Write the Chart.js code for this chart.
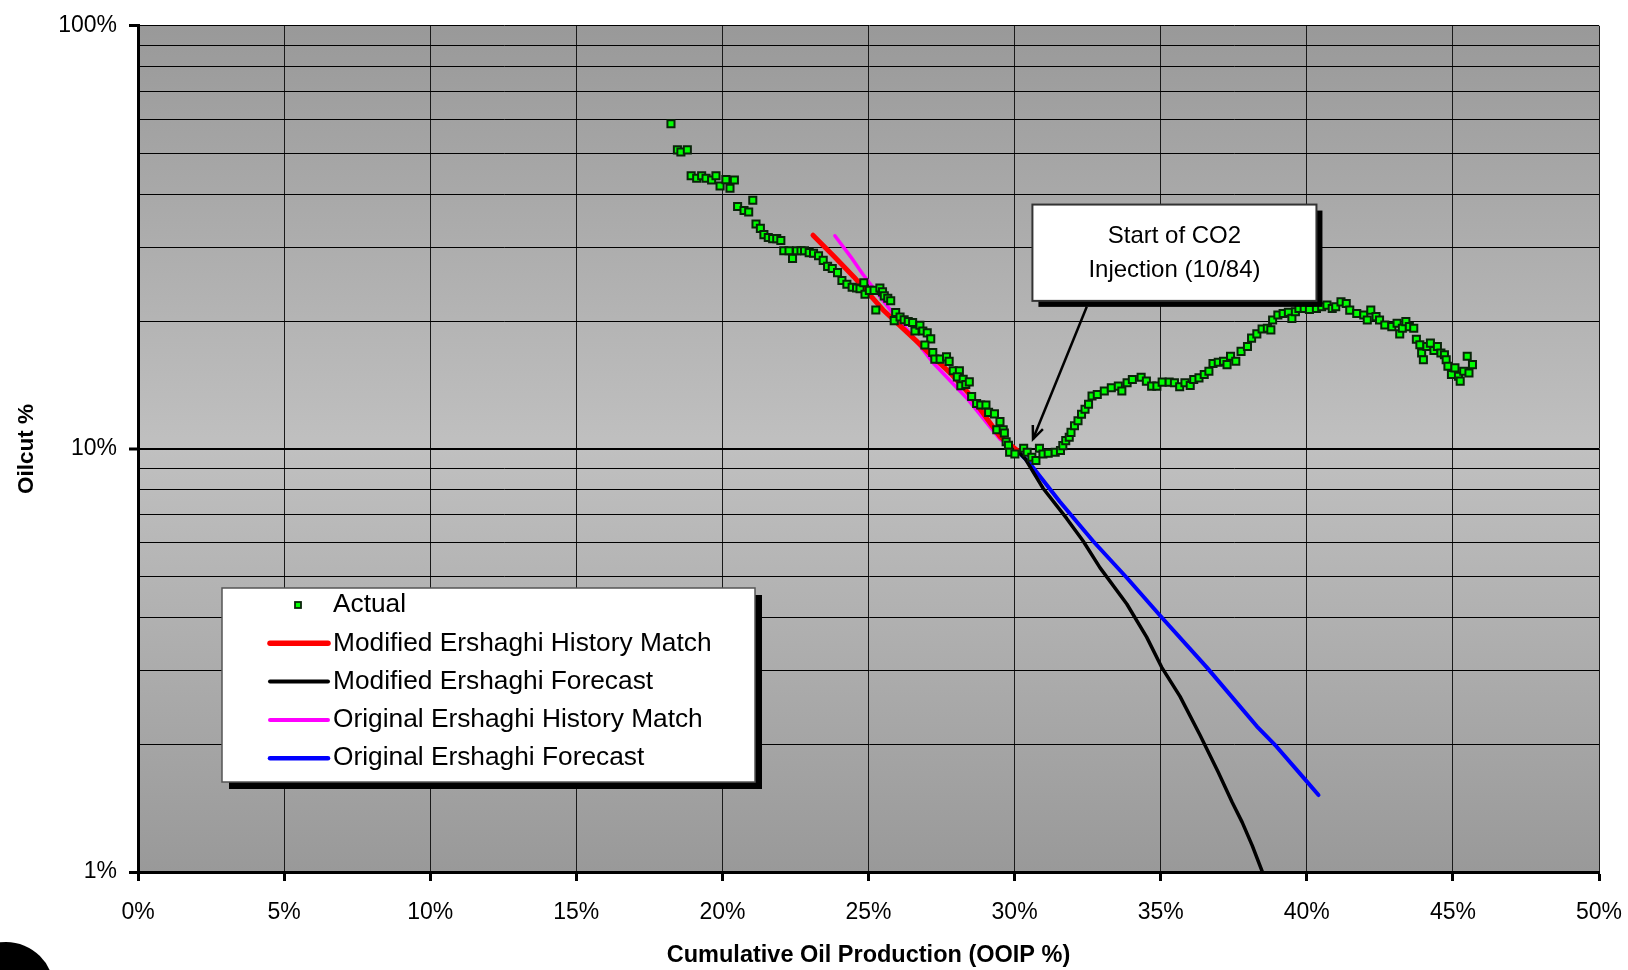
<!DOCTYPE html>
<html>
<head>
<meta charset="utf-8">
<script src="https://cdn.jsdelivr.net/npm/chart.js@4.4.1/dist/chart.umd.min.js"></script>
<style>
  html, body { margin: 0; padding: 0; background: #fff; }
  #wrap { width: 1628px; height: 970px; }
</style>
</head>
<body>
<div id="wrap"><canvas id="oilcut" width="1628" height="970"></canvas></div>
<script>
// Actual oilcut (x = cum oil % OOIP, y = oilcut %)
const actualX = [18.24, 18.46, 18.58, 18.80, 18.93, 19.12, 19.29, 19.44, 19.63, 19.78, 19.92, 20.12, 20.26, 20.41,
  20.52, 20.74, 20.90, 21.04, 21.15, 21.30, 21.42, 21.57, 21.72, 21.86, 22.00,
  22.10, 22.28, 22.40, 22.54, 22.69, 22.81, 22.97, 23.12, 23.29, 23.45, 23.60, 23.76, 23.94, 24.09, 24.26, 24.44,
  24.59, 24.71, 24.88, 24.84, 25.03, 25.19, 25.39, 25.48, 25.54, 25.66, 25.76, 25.25,
  25.93, 25.88, 26.08, 26.22, 26.36, 26.51, 26.59, 26.76, 26.86, 27.01, 27.13, 26.93, 27.20, 27.27, 27.45, 27.67,
  27.76, 27.90, 28.11, 28.04, 28.24, 28.16, 28.33, 28.45, 28.53, 28.70, 28.84, 29.02, 29.11, 29.31, 29.50, 29.39,
  29.61, 29.65, 29.71, 29.79,
  29.83, 30.01, 30.31, 30.43, 30.59, 30.73, 30.85, 30.97, 31.15, 31.39, 31.57, 31.65, 31.75, 31.87, 31.93, 32.05,
  32.17, 32.29, 32.41, 32.53, 32.65, 32.83, 33.07, 33.31, 33.55, 33.67, 33.85, 34.03, 34.33, 34.51, 34.69, 34.87,
  35.05, 35.29, 35.47, 35.65, 35.83, 36.01, 36.13, 36.31, 36.49, 36.65, 36.79, 36.97, 37.15, 37.27, 37.39, 37.57,
  37.75, 37.97, 38.11, 38.29, 38.47, 38.65, 38.77, 38.83, 39.01, 39.19, 39.37, 39.49, 39.61, 39.73, 39.91, 40.09,
  40.33, 40.51, 40.69, 40.87, 40.99, 41.17, 41.35, 41.47, 41.71, 41.95, 42.07, 42.19, 42.37, 42.49, 42.67, 42.91,
  43.09, 43.18, 43.27, 43.39, 43.51, 43.66, 43.75, 43.87, 43.93, 43.99, 44.11, 44.23, 44.35, 44.47, 44.59, 44.71,
  44.77, 44.83, 44.95, 45.07, 45.19, 45.25, 45.37, 45.49, 45.55, 45.67];
const actualY = [58.7, 50.9, 50.3, 50.9, 44.2, 43.6, 44.2, 43.6, 43.2, 44.2, 41.8, 43.3, 41.3, 43.2,
  37.4, 36.6, 36.3, 38.7, 34.0, 33.2, 32.1, 31.6, 31.4, 31.4, 31.1,
  29.4, 29.4, 28.2, 29.4, 29.4, 29.4, 29.1, 29.0, 28.6, 27.9, 27.0, 26.7, 26.1, 25.0, 24.5, 24.1,
  24.0, 23.9, 23.2, 24.7, 23.7, 23.7, 24.0, 23.5, 23.0, 22.7, 22.4, 21.3,
  21.0, 20.1, 20.5, 20.2, 20.0, 19.9, 19.0, 19.6, 19.0, 18.8, 18.2, 17.6, 16.9, 16.3, 16.3, 16.5,
  16.1, 15.3, 15.3, 14.8, 14.6, 14.1, 14.2, 14.4, 13.3, 12.8, 12.7, 12.7, 12.2, 12.1, 11.6, 11.1,
  11.1, 10.9, 10.4, 10.2,
  9.82, 9.73, 10.04, 9.82, 9.56, 9.39, 10.04, 9.73, 9.77, 9.82, 9.91, 10.18, 10.46, 10.65, 10.94, 11.34,
  11.65, 12.08, 12.41, 12.75, 13.33, 13.45, 13.70, 13.95, 14.07, 13.70, 14.33, 14.59, 14.77, 14.46, 14.07, 14.07,
  14.38, 14.38, 14.33, 14.02, 14.33, 14.12, 14.59, 14.72, 14.99, 15.26, 15.91, 16.02, 16.11, 15.82, 16.55, 16.11,
  17.0, 17.46, 18.27, 18.70, 19.21, 19.28, 19.11, 20.17, 20.72, 20.90, 21.02, 20.35, 21.10, 21.48, 21.48, 21.36,
  21.48, 21.67, 21.87, 21.48, 21.67, 22.26, 22.06, 21.28, 20.90, 20.72, 20.17, 21.28, 20.54, 20.17, 19.63, 19.45,
  19.81, 18.70, 19.28, 19.99, 19.45, 19.28, 18.17, 17.62, 16.85, 16.25, 17.46, 17.78, 17.09, 17.46, 16.85, 16.70,
  16.25, 15.68, 14.99, 15.54, 14.85, 14.46, 15.26, 16.55, 15.12, 15.82];

// Modified Ershaghi history match
const modMatchX = [23.1, 23.8, 24.5, 25.5, 26.6, 27.8, 28.4, 29.5, 30.1];
const modMatchY = [32.0, 28.6, 25.5, 21.3, 18.1, 15.1, 13.6, 10.7, 9.9];
// Modified Ershaghi forecast
const modFcstX = [30.1, 30.36, 30.98, 31.78, 32.35, 32.92, 33.84, 34.52, 35.03, 35.66, 36.34, 36.97, 37.45, 37.79, 38.13, 38.48];
const modFcstY = [9.9, 9.48, 8.06, 6.85, 6.05, 5.24, 4.30, 3.59, 3.05, 2.60, 2.11, 1.72, 1.46, 1.31, 1.156, 1.0];
// Original Ershaghi history match
const origMatchX = [23.85, 24.4, 24.8, 25.7, 26.5, 27.2, 28.4, 29.5, 30.0];
const origMatchY = [31.9, 28.4, 25.9, 21.5, 18.5, 16.0, 13.1, 10.55, 9.95];
// Original Ershaghi forecast
const origFcstX = [30.1, 30.53, 31.55, 32.69, 33.84, 35.03, 36.57, 38.29, 38.96, 39.99, 40.4];
const origFcstY = [9.9, 9.22, 7.50, 6.05, 4.96, 4.0, 3.05, 2.21, 1.98, 1.64, 1.52];

const xTicks = [0, 5, 10, 15, 20, 25, 30, 35, 40, 45, 50];
const yGrid = [1, 2, 3, 4, 5, 6, 7, 8, 9, 10, 20, 30, 40, 50, 60, 70, 80, 90, 100];
const yLabelled = [1, 10, 100];

const FONT = '"Liberation Sans", Arial, Helvetica, sans-serif';

function pts(xs, ys) { return xs.map((x, i) => ({ x: x, y: ys[i] })); }

// grey gradient behind the plot
const plotBg = {
  id: 'plotBg',
  beforeDraw(chart) {
    const { ctx, chartArea: a } = chart;
    const g = ctx.createLinearGradient(0, a.top, 0, a.bottom);
    g.addColorStop(0, '#999999');
    g.addColorStop(0.5, '#c0c0c0');
    g.addColorStop(1, '#999999');
    ctx.save();
    ctx.fillStyle = g;
    ctx.fillRect(a.left, a.top, a.right - a.left, a.bottom - a.top);
    ctx.restore();
  }
};

// callout box + arrow, anchored in data units
const callout = { x0: 30.61, x1: 40.33, yTop: 37.8, yBot: 22.38, fromX: 32.47, fromY: 21.67, toX: 30.63, toY: 10.55,
  lines: ['Start of CO2', 'Injection (10/84)'] };

const calloutPlugin = {
  id: 'callout',
  afterDatasetsDraw(chart) {
    const { ctx, scales: { x, y } } = chart;
    const l = x.getPixelForValue(callout.x0), r = x.getPixelForValue(callout.x1);
    const t = y.getPixelForValue(callout.yTop), b = y.getPixelForValue(callout.yBot);
    ctx.save();
    // arrow
    const ax = x.getPixelForValue(callout.fromX), ay = y.getPixelForValue(callout.fromY);
    const bx = x.getPixelForValue(callout.toX), by = y.getPixelForValue(callout.toY);
    ctx.strokeStyle = '#000';
    ctx.lineWidth = 2.5;
    ctx.beginPath(); ctx.moveTo(ax, ay); ctx.lineTo(bx, by); ctx.stroke();
    const ang = Math.atan2(by - ay, bx - ax);
    ctx.beginPath();
    ctx.moveTo(bx - 14 * Math.cos(ang - 0.4), by - 14 * Math.sin(ang - 0.4));
    ctx.lineTo(bx, by);
    ctx.lineTo(bx - 14 * Math.cos(ang + 0.4), by - 14 * Math.sin(ang + 0.4));
    ctx.stroke();
    // box with shadow
    ctx.fillStyle = '#000';
    ctx.fillRect(l + 6, t + 6, r - l, b - t);
    ctx.fillStyle = '#fff';
    ctx.fillRect(l, t, r - l, b - t);
    ctx.strokeStyle = '#333';
    ctx.lineWidth = 2;
    ctx.strokeRect(l, t, r - l, b - t);
    ctx.fillStyle = '#000';
    ctx.font = '24px ' + FONT;
    ctx.textAlign = 'center';
    ctx.textBaseline = 'middle';
    const cx = (l + r) / 2, cy = (t + b) / 2;
    ctx.fillText(callout.lines[0], cx, cy - 16);
    ctx.fillText(callout.lines[1], cx, cy + 18);
    ctx.restore();
  }
};

// boxed legend with drop shadow
const legendBox = { left: 222, top: 588, width: 533, height: 194, shadow: 7, rowTop: 605, rowGap: 38.3 };

const legendPlugin = {
  id: 'boxLegend',
  afterDraw(chart) {
    const { ctx } = chart;
    const L = legendBox;
    ctx.save();
    ctx.fillStyle = '#000';
    ctx.fillRect(L.left + L.shadow, L.top + L.shadow, L.width, L.height);
    ctx.fillStyle = '#fff';
    ctx.fillRect(L.left, L.top, L.width, L.height);
    ctx.strokeStyle = '#555';
    ctx.lineWidth = 1.5;
    ctx.strokeRect(L.left, L.top, L.width, L.height);
    ctx.font = '26.3px ' + FONT;
    ctx.textBaseline = 'middle';
    ctx.textAlign = 'left';
    chart.data.datasets.forEach((ds, i) => {
      const yy = L.rowTop + i * L.rowGap;
      if (ds.showLine) {
        ctx.strokeStyle = ds.borderColor;
        ctx.lineWidth = ds.borderWidth + 0.5;
        ctx.lineCap = 'round';
        ctx.beginPath(); ctx.moveTo(270, yy); ctx.lineTo(328, yy); ctx.stroke();
      } else {
        ctx.fillStyle = ds.pointBackgroundColor;
        ctx.strokeStyle = ds.pointBorderColor;
        ctx.lineWidth = 1.8;
        ctx.fillRect(295, yy - 3, 6, 6);
        ctx.strokeRect(295, yy - 3, 6, 6);
      }
      ctx.fillStyle = '#000';
      ctx.fillText(ds.label, 333, yy);
    });
    ctx.restore();
  }
};

// black blob in the lower-left corner of the original figure
const cornerMark = {
  id: 'cornerMark',
  afterDraw(chart) {
    const ctx = chart.ctx;
    ctx.save();
    ctx.fillStyle = '#000';
    ctx.beginPath();
    ctx.arc(6, 990, 48, 0, Math.PI * 2);
    ctx.fill();
    ctx.restore();
  }
};

const lineDs = (label, xs, ys, color, w) => ({
  label: label, data: pts(xs, ys), showLine: true, borderColor: color, backgroundColor: color,
  borderWidth: w, pointRadius: 0, pointHoverRadius: 0, tension: 0, borderCapStyle: 'round', borderJoinStyle: 'round'
});

new Chart(document.getElementById('oilcut'), {
  type: 'scatter',
  data: {
    datasets: [
      { label: 'Actual', data: pts(actualX, actualY), showLine: false, pointStyle: 'rect', pointRadius: 5,
        pointBackgroundColor: '#00ff00', pointBorderColor: '#0a240a', pointBorderWidth: 2 },
      lineDs('Modified Ershaghi History Match', modMatchX, modMatchY, '#ff0000', 5),
      lineDs('Modified Ershaghi Forecast', modFcstX, modFcstY, '#000000', 3.5),
      lineDs('Original Ershaghi History Match', origMatchX, origMatchY, '#ff00ff', 3.5),
      lineDs('Original Ershaghi Forecast', origFcstX, origFcstY, '#0000ff', 4)
    ]
  },
  options: {
    responsive: false,
    animation: false,
    devicePixelRatio: 1,
    layout: { padding: { left: 8, right: 29, top: 23, bottom: 0 } },
    plugins: { legend: { display: false }, tooltip: { enabled: false } },
    scales: {
      x: {
        type: 'linear', min: 0, max: 50,
        afterBuildTicks: s => { s.ticks = xTicks.map(v => ({ value: v })); },
        afterFit: s => { s.height = 98; s.paddingLeft = 0; s.paddingRight = 0; },
        ticks: { callback: v => v + '%', color: '#000', padding: 18, autoSkip: false, maxRotation: 0,
          font: { family: FONT, size: 23 } },
        grid: { color: '#1a1a1a', lineWidth: 1, tickColor: '#000', tickLength: 9, tickWidth: 3 },
        border: { color: '#000', width: 3 },
        title: { display: true, text: 'Cumulative Oil Production (OOIP %)', color: '#000',
          font: { family: FONT, size: 23.5, weight: 'bold' }, padding: { top: 0, bottom: 0 } }
      },
      y: {
        type: 'logarithmic', min: 1, max: 100,
        afterBuildTicks: s => { s.ticks = yGrid.map(v => ({ value: v })); },
        afterFit: s => { s.width = 130; },
        ticks: { callback: v => (yLabelled.includes(v) ? v + '%' : ''), color: '#000', padding: 12, autoSkip: false,
          font: { family: FONT, size: 23 } },
        grid: {
          color: '#000',
          lineWidth: c => (c.tick && c.tick.value === 10 ? 2 : 1),
          tickColor: c => (c.tick && yLabelled.includes(c.tick.value) ? '#000' : 'rgba(0,0,0,0)'),
          tickLength: 9, tickWidth: 3
        },
        border: { color: '#000', width: 3 },
        title: { display: true, text: 'Oilcut %', color: '#000',
          font: { family: FONT, size: 22.5, weight: 'bold' }, padding: { top: 5, bottom: 0 } }
      }
    }
  },
  plugins: [plotBg, calloutPlugin, legendPlugin, cornerMark]
});
</script>
</body>
</html>
